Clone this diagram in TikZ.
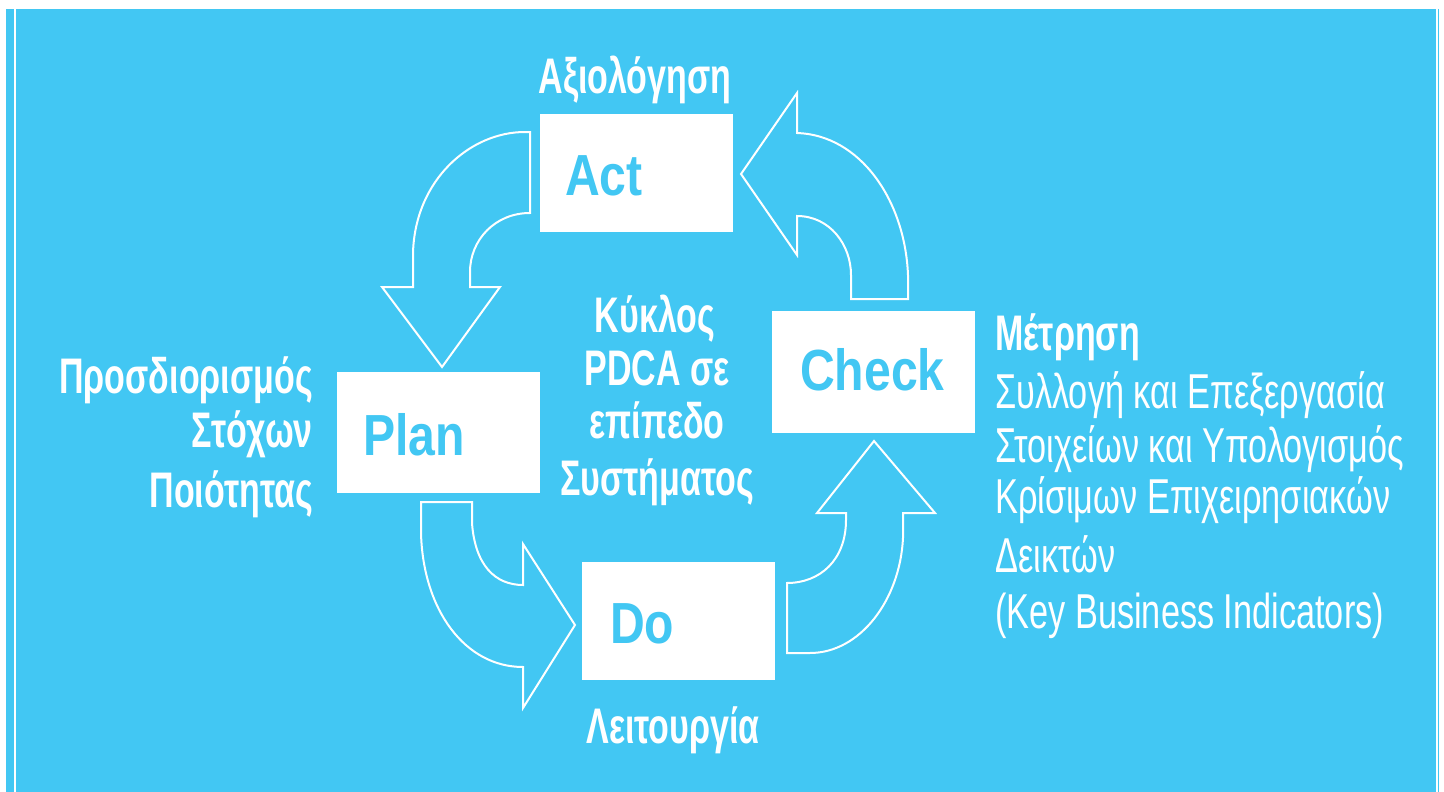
\documentclass[tikz,border=0pt]{standalone}
\usepackage{fontspec}
\setmainfont{Liberation Sans}
\newfontfamily\boxfont{Liberation Sans}[FakeStretch=0.83]
\newfontfamily\boldnarrow{Liberation Sans}[FakeStretch=0.68]
\newfontfamily\regnarrow{Liberation Sans}[FakeStretch=0.70]
\definecolor{pdcablue}{HTML}{42C7F3}
\begin{document}
\begin{tikzpicture}[x=1pt,y=-1pt,
  box/.style={draw=none,fill=white,minimum width=#1,inner sep=0pt},
  boxlabel/.style={anchor=base west,inner sep=0pt,text=pdcablue,font=\boxfont\bfseries\fontsize{58}{58}\selectfont},
  blabel/.style={inner sep=0pt,text=white,font=\boldnarrow\bfseries\fontsize{50}{50}\selectfont},
  rlabel/.style={anchor=base west,inner sep=0pt,text=white,font=\regnarrow\fontsize{49}{49}\selectfont},
  blockarrow/.style={draw=white,line width=2pt,line join=miter}]
\useasboundingbox (0,0) rectangle (1444,792);
\fill[pdcablue] (6,9) rectangle (1439,792);
\fill[white] (14,9) rectangle (16,792);
\fill[white] (1436,9) rectangle (1438,792);
% boxes
\node[box=193pt,minimum height=118pt] (act) at (636.5,173) {};
\node[box=203pt,minimum height=121pt] (plan) at (438.5,432.5) {};
\node[box=203pt,minimum height=122pt] (check) at (873.5,372) {};
\node[box=193pt,minimum height=118pt] (do) at (678.5,621) {};
\node[boxlabel] (actt) at (565,195) {Act};
\node[boxlabel] (plant) at (363,455) {Plan};
\node[boxlabel] (checkt) at (800,390) {Check};
\node[boxlabel] (dot) at (610,643) {Do};
% arrows
\draw[blockarrow] (530,132) -- (530,213) .. controls (495,213) and (470,240) .. (470,272)
  -- (470,287) -- (500,287) -- (442,367) -- (382,287) -- (413,287) -- (413,253)
  .. controls (415,180) and (470,132) .. (525,132) -- cycle;
\draw[blockarrow] (797,133) .. controls (860,135) and (905,200) .. (908,275) -- (908,299)
  -- (851,299) -- (851,275) .. controls (851,245) and (830,216) .. (797,216)
  -- (797,255) -- (741,174) -- (797,93) -- cycle;
\draw[blockarrow] (421,502) -- (472,502) -- (472,523) .. controls (475,565) and (495,585) .. (523,585)
  -- (523,544) -- (575,625) -- (523,708) -- (523,667)
  .. controls (465,667) and (423,610) .. (421,533) -- cycle;
\draw[blockarrow] (787,583) -- (787,653) -- (810,653) .. controls (860,653) and (900,600) .. (903,538)
  -- (903,513) -- (935,513) -- (874,441) -- (817,513) -- (846,513) -- (846,520)
  .. controls (846,560) and (820,583) .. (787,583) -- cycle;
% labels
\node[blabel,anchor=base] (axio) at (635,93) {Αξιολόγηση};
\node[blabel,anchor=base] (leit) at (673,743) {Λειτουργία};
\node[blabel,anchor=base east] (pl1) at (313,393) {Προσδιορισμός};
\node[blabel,anchor=base east] (pl2) at (313,447) {Στόχων};
\node[blabel,anchor=base east] (pl3) at (313,507) {Ποιότητας};
\node[blabel,anchor=base] (c1) at (655,332) {Κύκλος};
\node[blabel,anchor=base] (c2) at (657,385) {PDCA σε};
\node[blabel,anchor=base] (c3) at (657,438) {επίπεδο};
\node[blabel,anchor=base] (c4) at (657,495) {Συστήματος};
\node[blabel,anchor=base west] (m0) at (995,350) {Μέτρηση};
\node[rlabel] (m1) at (995,408) {Συλλογή και Επεξεργασία};
\node[rlabel] (m2) at (995,462) {Στοιχείων και Υπολογισμός};
\node[rlabel] (m3) at (995,513) {Κρίσιμων Επιχειρησιακών};
\node[rlabel] (m4) at (995,572) {Δεικτών};
\node[rlabel] (m5) at (995,628) {(Key Business Indicators)};
\end{tikzpicture}
\end{document}
